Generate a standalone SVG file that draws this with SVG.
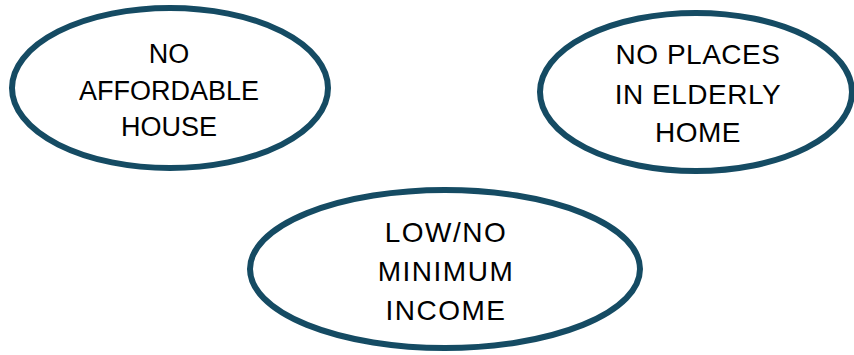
<svg xmlns="http://www.w3.org/2000/svg" width="854" height="355" viewBox="0 0 854 355">
<style>
.e{fill:#ffffff;stroke:#154b63;stroke-width:6}
.t{font-family:"Liberation Sans",Arial,sans-serif;font-size:27px;fill:#000;text-anchor:middle}
.t2{font-size:28px;letter-spacing:0.5px}
.t3{font-size:28px;letter-spacing:1.5px}
</style>
<rect width="854" height="355" fill="#ffffff"/>
<g id="connectors"></g>
<g id="node-affordable-house">
<ellipse class="e" cx="170" cy="88" rx="158" ry="80"/>
<text class="t" x="169" y="63">NO</text>
<text class="t" x="169" y="100">AFFORDABLE</text>
<text class="t" x="169" y="136">HOUSE</text>
</g>
<g id="node-elderly-home">
<ellipse class="e" cx="696" cy="92" rx="156" ry="79"/>
<text class="t t2" x="698" y="64">NO PLACES</text>
<text class="t t2" x="698" y="104">IN ELDERLY</text>
<text class="t t2" x="698" y="142">HOME</text>
</g>
<g id="node-minimum-income">
<ellipse class="e" cx="445" cy="269" rx="195" ry="79"/>
<text class="t t3" x="446" y="242">LOW/NO</text>
<text class="t t3" x="446" y="281">MINIMUM</text>
<text class="t t3" x="446" y="320">INCOME</text>
</g>
</svg>
